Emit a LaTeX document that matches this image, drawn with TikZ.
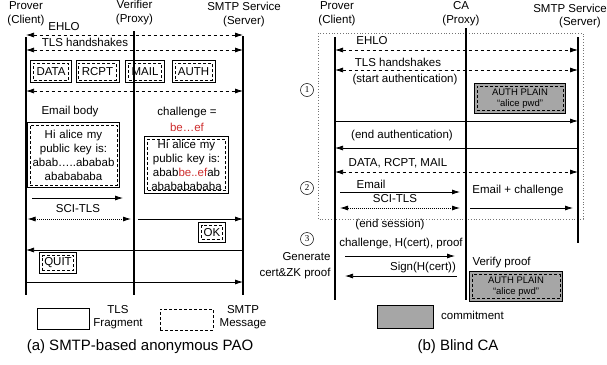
\documentclass[tikz,border=0pt]{standalone}
\usepackage{fontspec}
\setmainfont{Liberation Sans}
\newfontfamily\numfont{Liberation Serif}
\usetikzlibrary{arrows.meta,fit,backgrounds}
\definecolor{keyred}{RGB}{205,45,45}
\tikzset{
  life/.style={line width=1.4pt},
  msg/.style={draw,line width=0.7pt,dash pattern=on 3pt off 2pt,inner sep=3pt,minimum height=17pt},
  frag/.style={draw,line width=0.8pt,inner sep=2.5pt},
  commit/.style={draw,line width=0.8pt,fill=black!35,inner sep=2.5pt},
  arr/.style={line width=0.75pt,-{Latex[length=8pt,width=5pt]}},
  both/.style={line width=0.75pt,{Latex[length=8pt,width=5pt]}-{Latex[length=8pt,width=5pt]},dash pattern=on 3.5pt off 2.5pt},
  tls/.style={line width=0.8pt,{Latex[length=8pt,width=5pt]}-{Latex[length=8pt,width=5pt]},dash pattern=on 1pt off 1pt},
  stage/.style={draw,circle,line width=0.5pt,minimum size=13pt,inner sep=0pt,font=\numfont\fontsize{9}{9}\selectfont},
  small/.style={font=\fontsize{9.5}{11.5}\selectfont},
  capt/.style={font=\fontsize{15}{18}\selectfont}
}
\begin{document}
\begin{tikzpicture}[x=1pt,y=-1pt,font=\fontsize{11.5}{14}\selectfont]
\useasboundingbox (0,0) rectangle (607,364);

% (a) SMTP-based anonymous PAO
\node[align=center] (prvA) at (26,13.5) {Prover\\(Client)};
\node[align=center] (vfyA) at (134.5,13) {Verifier\\(Proxy)};
\node[align=center] (smtA) at (244,15) {SMTP Service\\(Server)};
\coordinate (pA) at (26,37);  \coordinate (pAe) at (26,295);
\coordinate (vA) at (134,31); \coordinate (vAe) at (134,295);
\coordinate (sA) at (243,36); \coordinate (sAe) at (243,295);
\draw[life] (pA) -- (pAe) (vA) -- (vAe) (sA) -- (sAe);

\node (ehloA) at (64,27) {EHLO};
\draw[both] (pA |- 0,35) -- (sA |- 0,35);
\node (tlsA) at (85,42) {TLS handshakes};
\draw[both] (pA |- 0,50) -- (sA |- 0,50);

\node[msg] (data) at (51,71.5) {DATA};
\node[msg] (rcpt) at (97.5,71.5) {RCPT};
\node[msg] (mail) at (145,71.5) {MAIL};
\node[msg] (auth) at (193.5,71.5) {AUTH};
\foreach \m in {data,rcpt,mail,auth}
  \node[frag,fit=(\m)] {};
\draw[both] (pA |- 0,91) -- (sA |- 0,91);

\node (bodyA) at (70,112) {Email body};
\node[msg,align=center,text width=85pt,inner sep=1pt,minimum height=60pt] (emlA) at (73.5,155)
  {Hi alice my\\public key is:\\abab…..ababab\\ababababa};
\node[frag,fit=(emlA)] {};
\node (chlA) at (187,113) {challenge =};
\node[text=keyred] (beA) at (187,127) {be…ef};
\node[msg,align=center,text width=77pt,inner sep=0.5pt] (emcA) at (186.5,165)
  {Hi alice my\\public key is:\\abab\textcolor{keyred}{be..ef}ab\\abababababa};
\node[frag,fit=(emcA)] {};

\draw[arr] ([xshift=6pt]pA |- 0,198) -- ([xshift=-11pt]vA |- 0,198);
\node (sciA) at (78,209) {SCI-TLS};
\draw[tls] ([xshift=1.5pt]pA |- 0,219) -- ([xshift=-3pt]vA |- 0,219);
\draw[arr] ([xshift=4pt]vA |- 0,219) -- (sA |- 0,219);
\node[msg,minimum height=14pt,inner sep=2pt] (okA) at (212,232.5) {OK};
\node[frag,fit=(okA)] {};
\draw[arr] (sA |- 0,250) -- (pA |- 0,250);
\node[msg,minimum height=15pt,inner sep=2pt] (quit) at (58,263) {QUIT};
\node[frag,fit=(quit)] {};
\draw[arr] (pA |- 0,282) -- (sA |- 0,282);

% legend
\node[draw,line width=0.8pt,minimum width=52pt,minimum height=21pt] (fragL) at (63,318.5) {};
\node[align=center,font=\fontsize{11.5}{13}\selectfont] (fragT) at (118,317.5) {TLS\\Fragment};
\node[msg,minimum width=53pt,minimum height=21pt] (msgL) at (186.5,319.5) {};
\node[align=center,font=\fontsize{11.5}{13}\selectfont] (msgT) at (243,317.5) {SMTP\\Message};
\node[capt] (capA) at (140,347) {(a) SMTP-based anonymous PAO};

% (b) Blind CA
\node[align=center] (prvB) at (337,14) {Prover\\(Client)};
\node[align=center] (caB) at (461,13.5) {CA\\(Proxy)};
\node (smtB) at (570,8) {SMTP Service};
\node (srvB) at (580,23) {(Server)};
\draw[black!55,line width=0.7pt,dash pattern=on 0.8pt off 2pt] (318,33) rectangle (583,219);
\coordinate (pB) at (335,37); \coordinate (pBe) at (335,300);
\coordinate (cB) at (466,28); \coordinate (cBe) at (466,300);
\coordinate (sB) at (578,37); \coordinate (sBe) at (578,243);
\draw[life] (pB) -- (pBe) (cB) -- (cBe) (sB) -- (sBe);

\node (ehloB) at (372,41) {EHLO};
\draw[both] (pB |- 0,50) -- (sB |- 0,50);
\node (tlsB) at (398,62) {TLS handshakes};
\draw[both] (pB |- 0,70) -- (sB |- 0,70);
\node (startB) at (405,80) {(start authentication)};
\node[stage] (one) at (307,90) {1};
\node[msg,small,align=center,minimum width=86pt,inner sep=2pt] (authB) at (520,98.5)
  {AUTH PLAIN\\“alice pwd”};
\begin{scope}[on background layer]
\node[commit,fit=(authB)] {};
\end{scope}
\draw[arr] (pB |- 0,121) -- (sB |- 0,121);
\node (endB) at (402,136) {(end authentication)};
\draw[arr] (sB |- 0,148) -- (pB |- 0,148);
\node (cmdB) at (398,163) {DATA, RCPT, MAIL};
\draw[both] (pB |- 0,172) -- (sB |- 0,172);

\node[stage] (two) at (307,188) {2};
\node (emlB) at (371,184) {Email};
\draw[arr] ([xshift=5pt]pB |- 0,192) -- ([xshift=-6pt]cB |- 0,192);
\node (sciB) at (395,199) {SCI-TLS};
\draw[tls] ([xshift=5pt]pB |- 0,208) -- ([xshift=-6pt]cB |- 0,208);
\node (emcB) at (518,191) {Email + challenge};
\draw[arr] ([xshift=4pt]cB |- 0,208) -- ([xshift=-5pt]sB |- 0,208);

\node (sesB) at (390,225) {(end session)};
\node[stage] (three) at (307,239) {3};
\node (prfB) at (401,244) {challenge, H(cert), proof};
\node[align=right,anchor=east,font=\fontsize{11.5}{16}\selectfont] (genB) at (334,266) {Generate\\cert\&ZK proof};
\draw[arr] ([xshift=10pt]pB |- 0,256) -- ([xshift=-11pt]cB |- 0,256);
\node (sigB) at (423,268) {Sign(H(cert))};
\draw[arr] ([xshift=-9pt]cB |- 0,276) -- ([xshift=10pt]pB |- 0,276);
\node[anchor=west] (vrfB) at (469,263) {Verify proof};
\node[msg,small,align=center,minimum width=88pt,inner sep=2pt] (authC) at (516,286.5)
  {AUTH PLAIN\\“alice pwd”};
\begin{scope}[on background layer]
\node[commit,fit=(authC)] {};
\end{scope}

% legend
\node[commit,minimum width=56pt,minimum height=23pt,inner sep=0pt] (comL) at (405,316.5) {};
\node (comT) at (472.5,315) {commitment};
\node[capt] (capB) at (458,347) {(b) Blind CA};
\end{tikzpicture}
\end{document}
